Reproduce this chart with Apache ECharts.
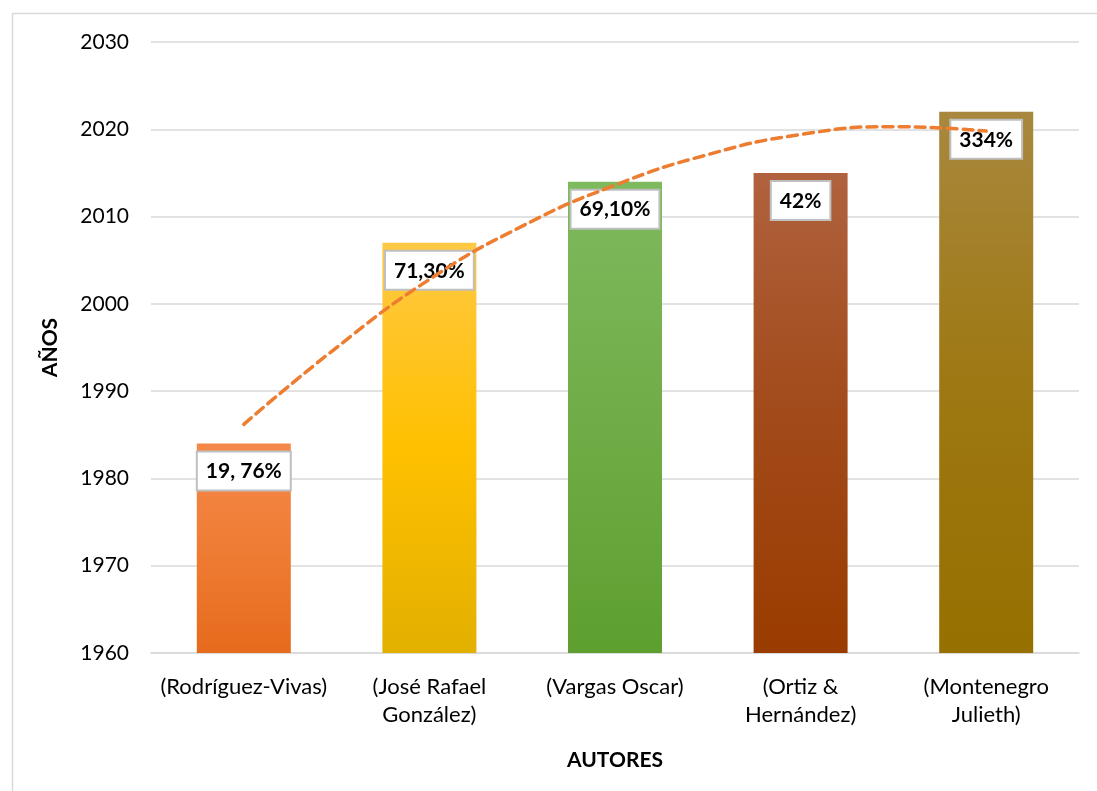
<!DOCTYPE html>
<html>
<head>
<meta charset="utf-8">
<script src="https://cdn.jsdelivr.net/npm/echarts@6/dist/echarts.min.js"></script>
<style>
  html, body { margin: 0; padding: 0; background: #ffffff; }
  #chart { width: 1097px; height: 791px; }
</style>
</head>
<body>
<div id="chart"></div>
<script>
// Authors and the publication year of each study
const autores = ['(Rodríguez-Vivas)', '(José Rafael\nGonzález)', '(Vargas Oscar)', '(Ortiz &\nHernández)', '(Montenegro\nJulieth)'];
const anios = [1984, 2007, 2014, 2015, 2022];
const etiquetas = ['19, 76%', '71,30%', '69,10%', '42%', '334%'];

// Polynomial trend line (positions 1..5 = author columns)
const tendenciaX = [1, 1.5, 2, 2.5, 3, 3.5, 4, 4.5, 5];
const tendenciaY = [1986.2, 1995.0, 2002.8, 2008.9, 2013.6, 2017.1, 2019.4, 2020.3, 2019.8];

// Y axis range
const yMin = 1960, yMax = 2030, yPaso = 10;

// Colour per bar: light top, base middle, darker bottom
const colores = [
  ['#F4894A', '#EF7C34', '#E66B1C'],
  ['#FFC945', '#FFC000', '#E2B000'],
  ['#7EBA5E', '#70AD47', '#5E9F30'],
  ['#B0623E', '#A24A1A', '#9A3C00'],
  ['#A8883E', '#9E7812', '#967000']
];

const fuente = 'Lato, "Noto Sans", sans-serif';

function degradado(c) {
  return new echarts.graphic.LinearGradient(0, 0, 0, 1, [
    { offset: 0, color: c[0] },
    { offset: 0.5, color: c[1] },
    { offset: 1, color: c[2] }
  ]);
}

const chart = echarts.init(document.getElementById('chart'), null, { renderer: 'canvas' });

chart.setOption({
  backgroundColor: '#ffffff',
  animation: false,
  graphic: [{
    type: 'rect',
    left: 10, top: 11,
    shape: { width: 1120, height: 820 },
    style: { fill: 'none', stroke: '#D9D9D9', lineWidth: 1.5 },
    silent: true, z: 0
  }],
  grid: { left: 151, right: 18, top: 42, bottom: 138 },
  xAxis: [{
    type: 'category',
    data: autores,
    axisLine: { show: true, lineStyle: { color: '#D9D9D9', width: 1.5 } },
    axisTick: { show: false },
    axisLabel: { color: '#000000', fontFamily: fuente, fontSize: 22, lineHeight: 28, margin: 20, interval: 0 },
    name: 'AUTORES',
    nameLocation: 'middle',
    nameGap: 97,
    nameTextStyle: { color: '#000000', fontFamily: fuente, fontSize: 21, fontWeight: 'bold' }
  }, {
    type: 'value',
    min: 0.5, max: 5.5,
    show: false
  }],
  yAxis: {
    type: 'value',
    min: yMin, max: yMax, interval: yPaso,
    axisLine: { show: false },
    axisTick: { show: false },
    splitLine: { lineStyle: { color: '#D9D9D9', width: 1.5 } },
    axisLabel: { color: '#000000', fontFamily: fuente, fontSize: 21, margin: 22, formatter: v => String(v) },
    name: 'AÑOS',
    nameLocation: 'middle',
    nameGap: 90,
    nameRotate: 90,
    nameTextStyle: { color: '#000000', fontFamily: fuente, fontSize: 21, fontWeight: 'bold' }
  },
  series: [{
    type: 'bar',
    xAxisIndex: 0,
    barWidth: 94,
    z: 2,
    data: anios.map((v, i) => ({ value: v, itemStyle: { color: degradado(colores[i]) } })),
    label: {
      show: true,
      position: 'insideTop',
      distance: 9,
      formatter: p => etiquetas[p.dataIndex],
      color: '#000000',
      fontFamily: fuente,
      fontSize: 21,
      fontWeight: 'bold',
      lineHeight: 24,
      backgroundColor: '#ffffff',
      borderColor: '#BFBFBF',
      borderWidth: 2,
      padding: [7, 8, 6, 8]
    }
  }, {
    type: 'line',
    xAxisIndex: 1,
    z: 5,
    smooth: true,
    symbol: 'none',
    data: tendenciaX.map((x, i) => [x, tendenciaY[i]]),
    lineStyle: { color: '#ED7D31', width: 3.5, type: [10, 6], cap: 'round' }
  }]
});
</script>
</body>
</html>
